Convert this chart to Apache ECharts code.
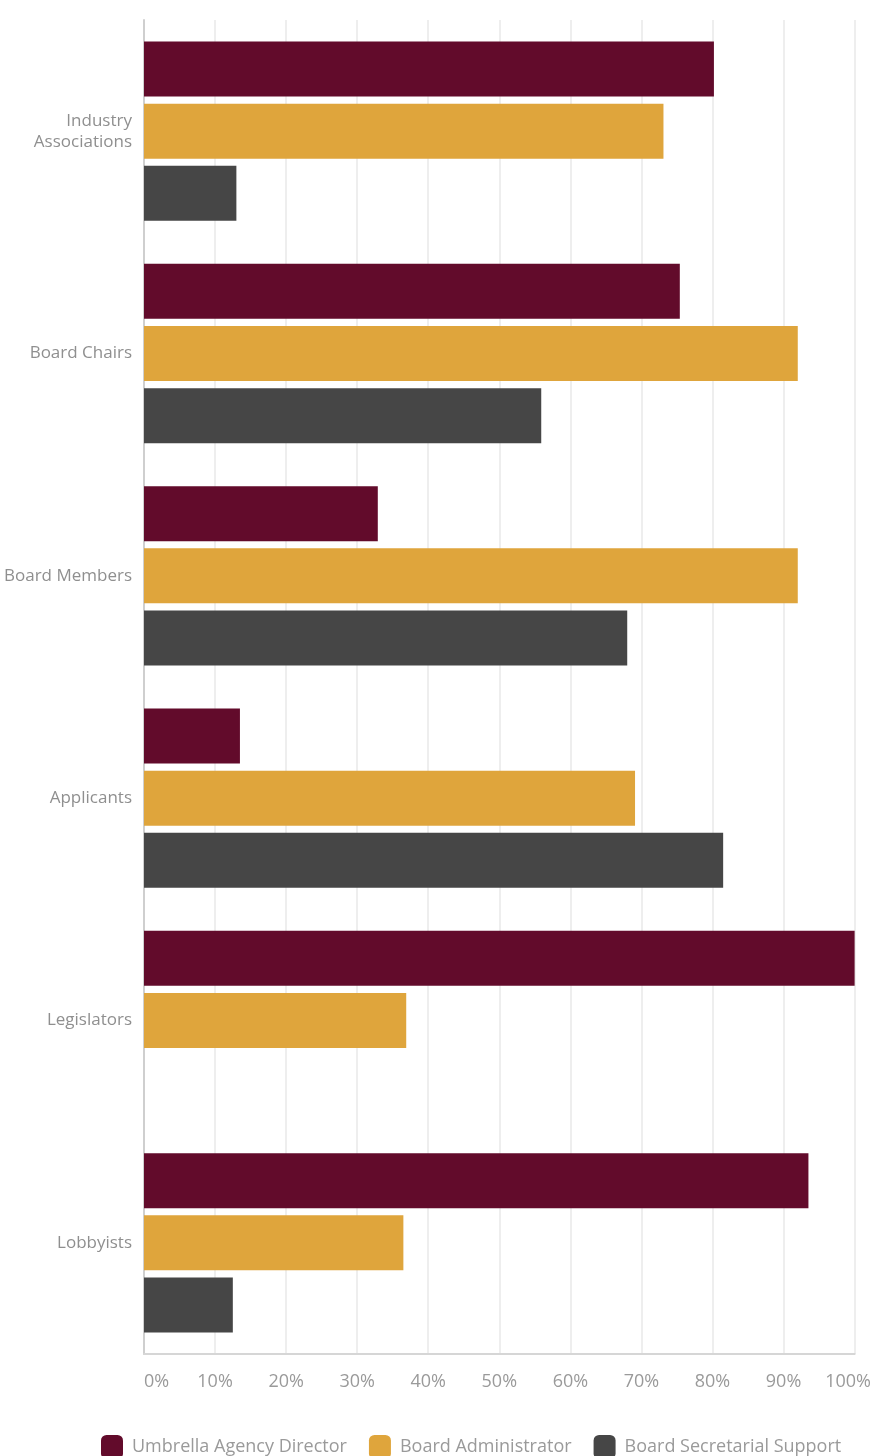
<!DOCTYPE html>
<html>
<head>
<meta charset="utf-8">
<script src="https://cdn.jsdelivr.net/npm/echarts@6/dist/echarts.min.js"></script>
<style>
  html, body { margin: 0; padding: 0; background: #ffffff; }
  #chart { width: 874px; height: 1456px; }
</style>
</head>
<body>
<div id="chart"></div>
<script>
// Audiences, top to bottom
const categories = [
  'Industry Associations',
  'Board Chairs',
  'Board Members',
  'Applicants',
  'Legislators',
  'Lobbyists'
];

// Share of respondents (%) per role
const umbrellaDirector = [80.2, 75.4, 32.9, 13.5, 100, 93.5];
const boardAdministrator = [73.1, 92.0, 92.0, 69.1, 36.9, 36.5];
const secretarialSupport = [13.0, 55.9, 68.0, 81.5, null, 12.5];

const seriesNames = ['Umbrella Agency Director', 'Board Administrator', 'Board Secretarial Support'];
const seriesColors = ['#620b2b', '#dfa53c', '#464646'];
const seriesValues = [umbrellaDirector, boardAdministrator, secretarialSupport];

const FONT = '"Open Sans", "DejaVu Sans", sans-serif';

const chart = echarts.init(document.getElementById('chart'), null, { renderer: 'canvas' });

chart.setOption({
  backgroundColor: '#ffffff',
  animation: false,
  textStyle: { fontFamily: FONT },
  legend: {
    left: 101,
    top: 1435,
    padding: 0,
    itemWidth: 22,
    itemHeight: 24,
    itemGap: 22,
    icon: 'roundRect',
    textStyle: {
      fontFamily: FONT,
      fontSize: 18,
      color: '#9a9a9a',
      padding: [0, 0, 0, 4]
    },
    data: seriesNames
  },
  grid: {
    left: 144,
    right: 18,
    top: 20,
    bottom: 102,
    containLabel: false
  },
  xAxis: {
    type: 'value',
    min: 0,
    max: 100,
    interval: 10,
    axisLine: { show: true, lineStyle: { color: '#d6d6d6', width: 2 } },
    axisTick: { show: false },
    splitLine: { show: true, lineStyle: { color: '#e8e8e8', width: 1.5 } },
    axisLabel: {
      margin: 19,
      fontFamily: FONT,
      fontSize: 18,
      color: '#9a9a9a',
      alignMinLabel: 'left',
      formatter: function (v) {
        return v === 100 ? '{m|' + v + '%}' : v + '%';
      },
      rich: {
        m: { fontFamily: FONT, fontSize: 18, color: '#9a9a9a', padding: [0, 13, 0, 0] }
      }
    }
  },
  yAxis: {
    type: 'category',
    inverse: true,
    data: categories,
    axisLine: { show: true, lineStyle: { color: '#cfcfcf', width: 2 } },
    axisTick: { show: false },
    splitLine: { show: false },
    axisLabel: {
      margin: 12,
      fontFamily: FONT,
      fontSize: 17,
      lineHeight: 21,
      color: '#8f8f8f',
      align: 'right',
      // long names wrap onto two lines
      formatter: function (v) {
        return v.length > 16 ? v.replace(' ', '\n') : v;
      }
    }
  },
  series: seriesNames.map(function (name, i) {
    return {
      name: name,
      type: 'bar',
      data: seriesValues[i],
      barWidth: 55,
      barGap: '13%',
      itemStyle: { color: seriesColors[i] },
      emphasis: { disabled: true }
    };
  })
});
</script>
</body>
</html>
